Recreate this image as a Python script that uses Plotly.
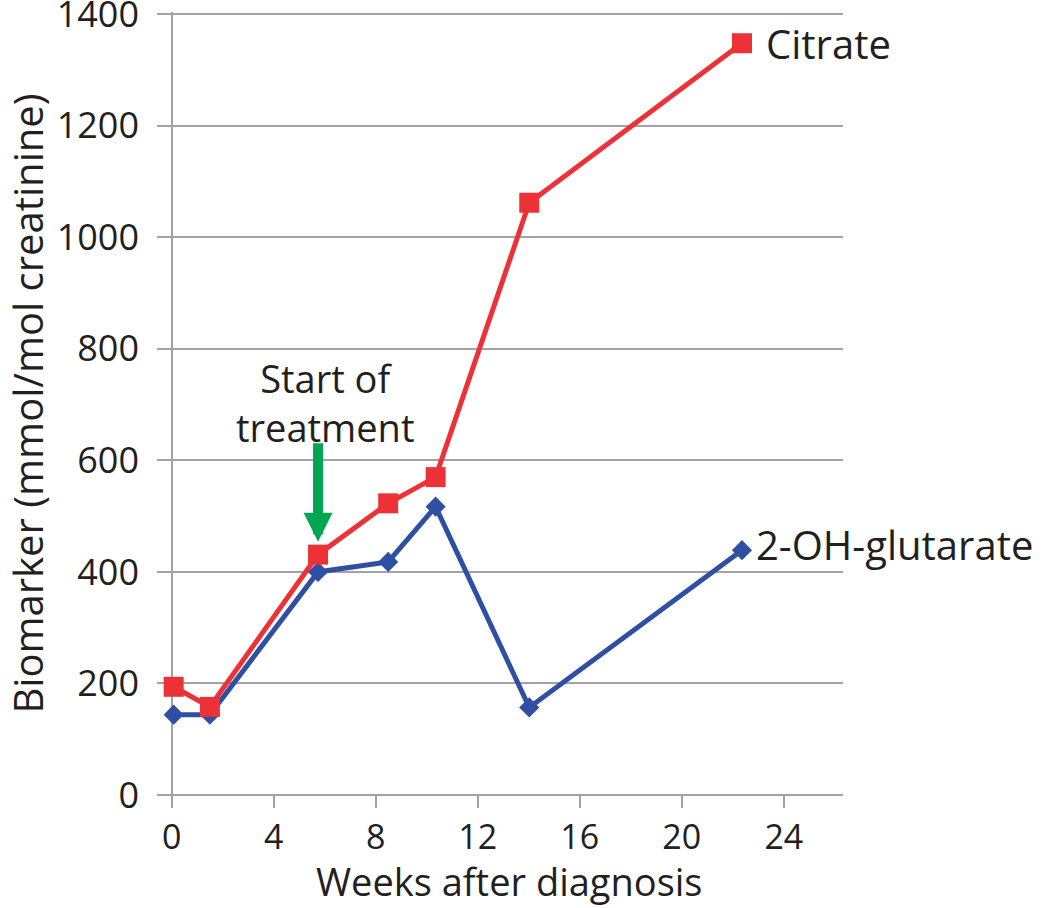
import plotly.graph_objects as go

# ---- data ----
weeks = [0.08, 1.5, 5.74, 8.49, 10.35, 14.02, 22.36]
citrate = [194, 158, 431, 523, 570, 1062, 1348]
hydroxyglutarate = [144, 144, 400, 418, 517, 157, 439]

x_ticks = [0, 4, 8, 12, 16, 20, 24]
y_ticks = [0, 200, 400, 600, 800, 1000, 1200, 1400]

treatment_week = 5.74
treatment_arrow_tip = 454

RED = "#ED3237"
BLUE = "#2F4FA3"
GREEN = "#00A651"
GRID = "#A3A3A3"
TEXT = "#231F20"
FONT = "Open Sans"

fig = go.Figure()

fig.add_trace(go.Scatter(
    x=weeks, y=hydroxyglutarate, mode="lines+markers", name="2-OH-glutarate",
    line=dict(color=BLUE, width=5),
    marker=dict(symbol="diamond", size=15.5, color=BLUE),
    showlegend=False,
))
fig.add_trace(go.Scatter(
    x=weeks, y=citrate, mode="lines+markers", name="Citrate",
    line=dict(color=RED, width=5),
    marker=dict(symbol="square", size=20, color=RED),
    showlegend=False,
))

# series labels
fig.add_annotation(x=weeks[-1], y=citrate[-1], xref="x", yref="y", text="Citrate",
                   showarrow=False, xanchor="left", yanchor="middle", xshift=22, yshift=0,
                   font=dict(family=FONT, size=40, color=TEXT))
fig.add_annotation(x=weeks[-1], y=hydroxyglutarate[-1], xref="x", yref="y", text="2-OH-glutarate",
                   showarrow=False, xanchor="left", yanchor="middle", xshift=12, yshift=6,
                   font=dict(family=FONT, size=40, color=TEXT))

# start of treatment text and arrow
fig.add_annotation(x=treatment_week, y=treatment_arrow_tip, xref="x", yref="y",
                   text="Start of<br>treatment",
                   showarrow=False, xanchor="center", yanchor="middle", align="center",
                   xshift=7, yshift=139,
                   font=dict(family=FONT, size=38, color=TEXT))
fig.add_annotation(x=treatment_week, y=treatment_arrow_tip, xref="x", yref="y", text="",
                   showarrow=True, arrowhead=2, arrowsize=0.58, arrowwidth=10,
                   arrowcolor=GREEN, ax=0, ay=-100, axref="pixel", ayref="pixel")

# x-axis title (placed slightly right of centre, as in the reference)
fig.add_annotation(x=0.513, y=0, xref="paper", yref="paper", text="Weeks after diagnosis",
                   showarrow=False, xanchor="center", yanchor="top", yshift=-58,
                   font=dict(family=FONT, size=38, color=TEXT))

fig.update_xaxes(
    range=[-0.573, 26.32], automargin=False,
    tickmode="array", tickvals=x_ticks, ticktext=[str(v) for v in x_ticks],
    ticks="outside", ticklen=12, tickwidth=2, tickcolor=GRID,
    showgrid=False,
    zeroline=True, zerolinecolor=GRID, zerolinewidth=2,
    showline=False, ticklabeloverflow="allow",
    tickfont=dict(family=FONT, size=34, color=TEXT),
)
fig.update_yaxes(
    range=[0, 1404], automargin=False,
    tickmode="array", tickvals=y_ticks, ticktext=[str(v) for v in y_ticks],
    ticks="", showgrid=True, gridcolor=GRID, gridwidth=2,
    zeroline=True, zerolinecolor=GRID, zerolinewidth=2,
    showline=False, ticklabelstandoff=17, ticklabeloverflow="allow",
    tickfont=dict(family=FONT, size=36, color=TEXT),
    title=dict(text="Biomarker (mmol/mol creatinine)", font=dict(family=FONT, size=40, color=TEXT), standoff=2),
)

fig.update_layout(
    width=1050, height=908,
    margin=dict(l=157, r=207, t=12, b=113, pad=0),
    paper_bgcolor="white", plot_bgcolor="white",
    font=dict(family=FONT, color=TEXT),
)

fig.write_html("out.html", config={"displayModeBar": False},
               post_script="document.body.style.margin='0';document.body.style.overflow='hidden';")
